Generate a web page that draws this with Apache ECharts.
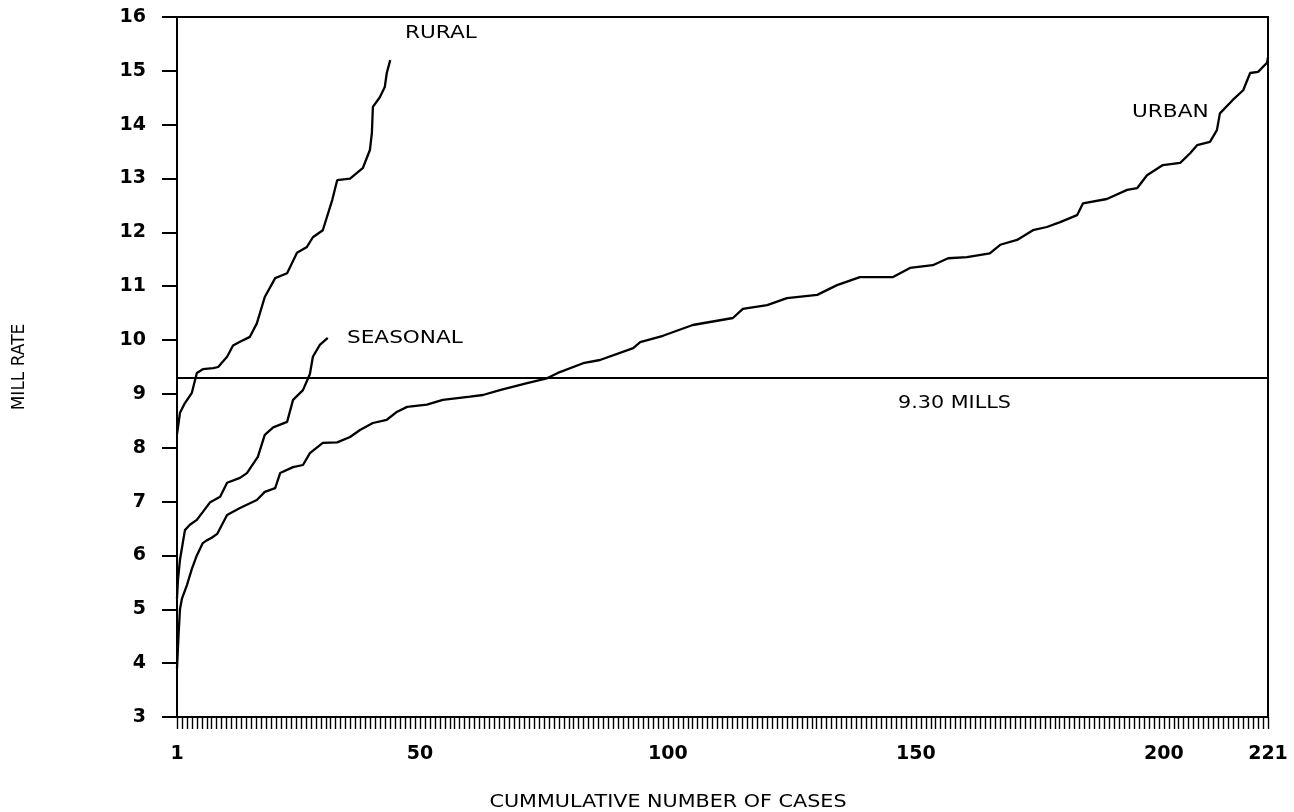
<!DOCTYPE html>
<html>
<head>
<meta charset="utf-8">
<script src="https://cdn.jsdelivr.net/npm/echarts@6/dist/echarts.min.js"></script>
<style>
html,body{margin:0;padding:0;background:#fff;}
#chart{width:1294px;height:812px;}
</style>
</head>
<body>
<div id="chart"></div>
<script>
// Cumulative case number vs mill rate
const urbanCases = [1,1.3,1.6,2,3,4,5,6.2,7,8,9.1,11.1,13.7,17.1,18.7,20.8,21.8,24.4,26.4,27.8,30.4,33.3,35.9,37.9,40.5,43.3,45.4,47.4,51.4,54.6,60.1,62.7,66.1,71.6,75.6,77.8,82.9,86.3,93,94.4,99,105,113.1,115.1,120,124,130.1,134.1,138.7,145.4,148.8,153.4,156.5,160.3,164.9,167,170.4,173.6,176.4,179.1,182.5,183.7,188.5,192.6,194.6,196.6,199.8,203.3,205.3,206.7,209.3,210.7,211.3,213.9,216,217.4,219,220.8,221];
const urbanRate  = [3.9,4.5,5.0,5.2,5.45,5.75,6.0,6.23,6.28,6.33,6.4,6.75,6.88,7.03,7.18,7.25,7.53,7.64,7.68,7.9,8.09,8.1,8.2,8.33,8.46,8.52,8.67,8.76,8.8,8.89,8.95,8.98,9.07,9.2,9.29,9.39,9.57,9.63,9.85,9.96,10.08,10.28,10.41,10.58,10.65,10.78,10.84,11.02,11.17,11.17,11.34,11.39,11.52,11.54,11.61,11.77,11.86,12.04,12.1,12.19,12.32,12.54,12.62,12.79,12.82,13.06,13.25,13.29,13.47,13.62,13.68,13.9,14.21,14.46,14.64,14.96,14.98,15.15,15.25];

const ruralCases = [1,1.6,2.6,4,5,6.2,8.3,9.3,11.1,12.3,13.7,15.7,17.1,18.7,20.8,23.2,25.2,27.2,28.4,30.4,32.3,33.3,35.9,38.5,39.9,40.3,40.5,41.9,42.9,43.3,44];
const ruralRate  = [8.25,8.65,8.83,9.02,9.39,9.46,9.48,9.5,9.69,9.9,9.97,10.06,10.31,10.8,11.15,11.24,11.62,11.73,11.91,12.04,12.6,12.97,13.0,13.2,13.53,13.85,14.33,14.51,14.7,14.96,15.2];

const seasonalCases = [1,1.2,1.6,2.6,3.6,5,7.7,9.7,11.1,13.7,15.1,17.3,18.7,20.4,23.2,24.4,26.4,27.8,28.4,29.8,31.4];
const seasonalRate  = [5.2,5.55,5.92,6.47,6.57,6.66,6.99,7.09,7.35,7.44,7.53,7.83,8.24,8.38,8.48,8.89,9.07,9.37,9.69,9.91,10.04];

const referenceRate = 9.30;
const xTickLabels = [1, 50, 100, 150, 200, 221];
const xMin = 1, xMax = 221;
const yMin = 3, yMax = 16, yStep = 1;

const labelTexts = {rural: 'RURAL', seasonal: 'SEASONAL', urban: 'URBAN', ref: '9.30 MILLS'};
const xTitle = 'CUMMULATIVE NUMBER OF CASES';
const yTitle = 'MILL RATE';

function pairs(xs, ys){ return xs.map((x,i)=>[x, ys[i]]); }

const FONT = 'DejaVu Sans';
const TXT = '500 18px "DejaVu Sans"';
const lineStyle = {color:'#000', width:2.3};

const chart = echarts.init(document.getElementById('chart'), null, {renderer:'canvas'});
const option = {
  backgroundColor:'#fff',
  animation:false,
  grid:{left:177, right:26, top:17, bottom:95, containLabel:false, outerBoundsMode:'none',
        show:true, borderColor:'#000', borderWidth:2, backgroundColor:'transparent'},
  xAxis:{
    type:'value', min:xMin, max:xMax, interval:1,
    axisLine:{show:true, onZero:false, lineStyle:{color:'#000', width:2}},
    axisTick:{show:true, inside:false, length:12, lineStyle:{color:'#000', width:1.4}},
    axisLabel:{
      color:'#000', fontFamily:FONT, fontSize:19, fontWeight:'bold', margin:28,
      showMinLabel:true, showMaxLabel:true,
      formatter: v => xTickLabels.includes(Math.round(v)) && Math.abs(v-Math.round(v))<1e-6 ? String(Math.round(v)) : ''
    },
    splitLine:{show:false}
  },
  yAxis:{
    type:'value', min:yMin, max:yMax, interval:yStep,
    name:yTitle, nameLocation:'middle', nameGap:149, nameRotate:90,
    nameTextStyle:{color:'#000', fontFamily:FONT, fontSize:17},
    axisLine:{show:true, onZero:false, lineStyle:{color:'#000', width:2}},
    axisTick:{show:true, inside:false, length:15, lineStyle:{color:'#000', width:2}},
    axisLabel:{color:'#000', fontFamily:FONT, fontSize:19, fontWeight:'bold', margin:31},
    splitLine:{show:false}
  },
  series:[
    {name:'URBAN', type:'line', data:pairs(urbanCases, urbanRate), showSymbol:false, symbol:'none', lineStyle:lineStyle, z:3,
      markLine:{silent:true, symbol:'none', label:{show:false}, lineStyle:{color:'#000', width:2, type:'solid'},
        data:[{yAxis:referenceRate}]}},
    {name:'RURAL', type:'line', data:pairs(ruralCases, ruralRate), showSymbol:false, symbol:'none', lineStyle:lineStyle, z:3},
    {name:'SEASONAL', type:'line', data:pairs(seasonalCases, seasonalRate), showSymbol:false, symbol:'none', lineStyle:lineStyle, z:3}
  ],
  graphic:[
    {type:'text', x:405, y:33, scaleX:1.2, style:{text:labelTexts.rural, fill:'#000', font:TXT, textAlign:'left', textVerticalAlign:'middle'}},
    {type:'text', x:347, y:338, scaleX:1.2, style:{text:labelTexts.seasonal, fill:'#000', font:TXT, textAlign:'left', textVerticalAlign:'middle'}},
    {type:'text', x:1132, y:112, scaleX:1.2, style:{text:labelTexts.urban, fill:'#000', font:TXT, textAlign:'left', textVerticalAlign:'middle'}},
    {type:'text', x:898, y:403, scaleX:1.15, style:{text:labelTexts.ref, fill:'#000', font:TXT, textAlign:'left', textVerticalAlign:'middle'}},
    {type:'text', x:668, y:802, scaleX:1.15, style:{text:xTitle, fill:'#000', font:TXT, textAlign:'center', textVerticalAlign:'middle'}}
  ]
};
chart.setOption(option);
</script>
</body>
</html>
